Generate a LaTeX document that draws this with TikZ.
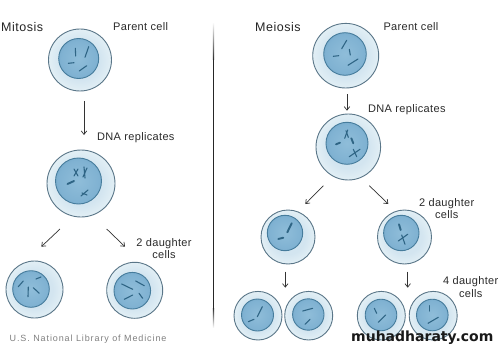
\documentclass[tikz,border=0pt]{standalone}
\usepackage{fontspec}
\setmainfont{Liberation Sans}
\newfontfamily\markfont{DejaVu Sans Bold}
\usetikzlibrary{arrows.meta,shapes.geometric}

\definecolor{membrane}{HTML}{5A7688}
\definecolor{nucedge}{HTML}{467C9C}
\definecolor{chromo}{HTML}{2F6585}
\definecolor{labelink}{HTML}{2B2B2B}
\definecolor{plasmaA}{HTML}{D3E5F0}
\definecolor{plasmaB}{HTML}{E2EFF5}
\definecolor{plasmaC}{HTML}{F6FAFC}
\definecolor{nucA}{HTML}{8FBDD9}
\definecolor{nucB}{HTML}{80B2D2}
\definecolor{nucC}{HTML}{6BA1C4}

% stops run to the inscribed radius of the bounding square, near 35bp
\pgfdeclareradialshading{plasma}{\pgfpointorigin}{
  color(0bp)=(plasmaA); color(16bp)=(plasmaA);
  color(25bp)=(plasmaB); color(35bp)=(plasmaC); color(50bp)=(plasmaC)}
\pgfdeclareradialshading{nucleoplasm}{\pgfpointorigin}{
  color(0bp)=(nucA); color(22bp)=(nucB);
  color(35bp)=(nucC); color(50bp)=(nucC)}

\tikzset{
  x=1pt, y=-1pt,
  cellouter/.style={ellipse, draw=membrane, line width=0.9pt, shading=plasma, inner sep=0pt},
  cellnucleus/.style={ellipse, draw=nucedge, line width=0.9pt, shading=nucleoplasm, inner sep=0pt},
  chrom/.style={draw=chromo, line width=1.1pt, line cap=round},
  chromthick/.style={draw=chromo, line width=1.9pt, line cap=round},
  flow/.style={draw=black!80, line width=0.7pt, -{Straight Barb[length=3.5pt,width=5.5pt]}},
  caption/.style={text=labelink, inner sep=0pt, font=\addfontfeature{LetterSpace=3}\fontsize{11}{12.6}\selectfont},
  heading/.style={text=black!85, inner sep=0pt, font=\addfontfeature{LetterSpace=4}\fontsize{12.5}{14}\selectfont},
  credit/.style={text=black!50, inner sep=0pt, font=\addfontfeature{LetterSpace=10}\fontsize{9}{10}\selectfont},
  brand/.style={text=black!90, inner sep=0pt, font=\markfont\fontsize{14}{16}\selectfont}
}

% cell: name, centre x,y, radii x,y, nucleus centre x,y, nucleus radius
\newcommand{\cellfig}[8]{%
  \node[cellouter, minimum width=2*#4 pt, minimum height=2*#5 pt] (#1) at (#2,#3) {};
  \node[cellnucleus, minimum width=2*#8 pt, minimum height=2*#8 pt] (#1-n) at (#6,#7) {};
}

\begin{document}
\begin{tikzpicture}
\useasboundingbox (0,0) rectangle (500,350);
\fill[white] (0,0) rectangle (500,350);

% divider between the two panels
\shade[top color=white, bottom color=black!85] (212.9,22) rectangle (214.1,60);
\fill[black!85] (212.9,60) rectangle (214.1,308);
\shade[top color=black!85, bottom color=white] (212.9,308) rectangle (214.1,328);

% mitosis cells
\cellfig{mparent}{80}{60}{31.5}{31}{78.7}{58.5}{20}
\cellfig{mrep}{81}{183.5}{34}{33.5}{78.5}{181}{23}
\cellfig{mleft}{34.5}{289.5}{28.5}{28.5}{31}{289}{18.3}
\cellfig{mright}{134.7}{290.3}{28}{28}{132.3}{290.7}{18.3}

% meiosis cells
\cellfig{eparent}{345.7}{55.7}{33}{32.3}{345}{54}{21.3}
\cellfig{erep}{348.3}{147}{32.3}{33}{347}{143.3}{21}
\cellfig{eleft}{288}{237}{27}{27}{285}{233}{17.7}
\cellfig{eright}{404.5}{237}{27}{27}{401.3}{233}{17.7}
\cellfig{ea}{258}{315.7}{24}{24.3}{257.5}{315}{16}
\cellfig{eb}{308.7}{315.7}{24}{24.3}{308.3}{314.5}{15.7}
\cellfig{ec}{381.3}{315.7}{24}{24.3}{381}{315}{15.8}
\cellfig{ed}{433.2}{315.7}{24}{24.3}{432.3}{315}{15.8}

% chromosomes, single threads
\foreach \xa/\ya/\xb/\yb in {
  75.3/48.3/75.7/56, 88.7/46.7/85/57.3, 68.3/63.3/74/62.7, 79.3/71/86.7/65.7,
  18.3/286.7/23.3/281, 36/279/41/277, 28.3/287/28/296.7, 33.3/287.7/39.3/293.3,
  121.7/284/132.7/289.3, 135.7/281/144.3/285.7, 124.3/299.3/132.7/295, 139/293.3/142.7/298.3,
  341.7/48.7/346.7/40.3, 349.3/49.3/350.3/55, 333.3/56.3/338.7/55.7, 348/65.3/358/59,
  257.3/316.7/262.3/306.7, 248.3/321.7/254/319.3,
  302.7/311/312.7/308.3, 305/324.3/310/319.3,
  374.3/308.3/376.7/313.3, 378.3/322.3/385.7/315,
  429.3/305.7/429.3/311, 428/323.3/438.3/317.3,
  74/169/78/176, 78/169/74/176, 84/167/85/178, 87/168/83/177,
  81/196/88/190, 82/193/87/195,
  344.7/138.3/347.7/130, 346/130.7/348.3/137.3,
  349.3/156.7/360/149.3, 353.3/149.3/356.7/156.7,
  398.3/241/407.7/234.3, 401.7/235/405/244.3}
  \draw[chrom] (\xa,\ya) -- (\xb,\yb);

% chromosomes, condensed
\foreach \xa/\ya/\xb/\yb in {
  67.5/184/74/181, 336/144.3/340/142.7, 351.3/138.3/353.3/143.3,
  287.3/232.3/291.7/223.3, 278.3/239/283.3/237.7, 399/224.3/400.7/230}
  \draw[chromthick] (\xa,\ya) -- (\xb,\yb);

% connector ends
\coordinate (m1s) at (84,101);     \coordinate (m1e) at (84,135);
\coordinate (m2s) at (60,229);     \coordinate (m2e) at (41.3,246.7);
\coordinate (m3s) at (106.7,229);  \coordinate (m3e) at (125,246.7);
\coordinate (e1s) at (347,94.3);   \coordinate (e1e) at (347,110.7);
\coordinate (e2s) at (323.3,185.7);\coordinate (e2e) at (305.3,204);
\coordinate (e3s) at (369.3,185.7);\coordinate (e3e) at (388.3,204);
\coordinate (e4s) at (285.3,271.7);\coordinate (e4e) at (285.3,287.7);
\coordinate (e5s) at (407.7,271.7);\coordinate (e5e) at (407.7,287.7);
\foreach \c in {m1,m2,m3,e1,e2,e3,e4,e5}
  \draw[flow] (\c s) -- (\c e);

% labels
\node[heading, anchor=base west] (tmit) at (1,31.3) {Mitosis};
\node[heading, anchor=base west] (tmei) at (255,31.3) {Meiosis};
\node[caption, anchor=base west] (lp1) at (113,30.3) {Parent cell};
\node[caption, anchor=base west] (lp2) at (383.3,30.3) {Parent cell};
\node[caption, anchor=base west] (ld1) at (97,140) {DNA replicates};
\node[caption, anchor=base west] (ld2) at (368,113) {DNA replicates};
\node[caption, align=center] (ld3) at (164,248.5) {2 daughter\\cells};
\node[caption, align=center] (ld4) at (446.7,208.5) {2 daughter\\cells};
\node[caption, align=center] (ld5) at (470.7,287) {4 daughter\\cells};
\node[credit, anchor=base west] (lc) at (9.5,341.7) {U.S. National Library of Medicine};
\node[brand, anchor=base west] (lb) at (351,341.7) {muhadharaty.com};
\end{tikzpicture}
\end{document}
